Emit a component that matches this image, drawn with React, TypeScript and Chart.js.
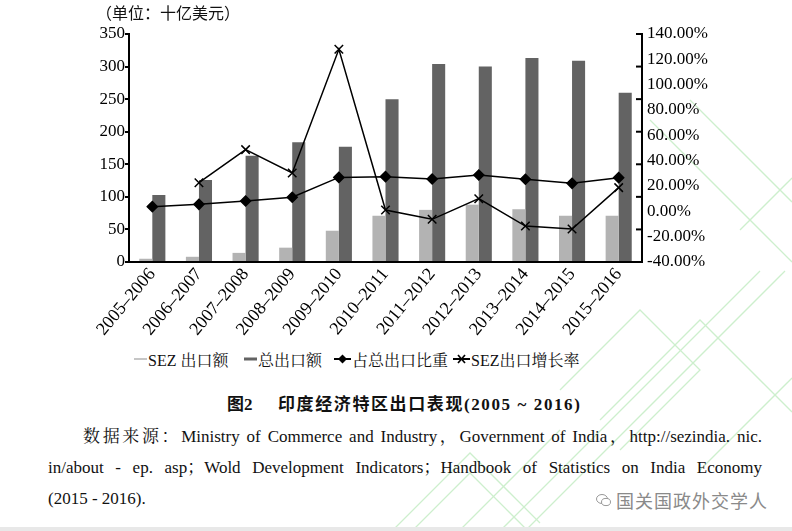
import React, { useEffect, useRef } from "react";
import { Chart, registerables } from "chart.js";

Chart.register(...registerables);

const categories = [
  "2005–2006", "2006–2007", "2007–2008", "2008–2009", "2009–2010", "2010–2011",
  "2011–2012", "2012–2013", "2013–2014", "2014–2015", "2015–2016",
];
const sezExports = [5, 8, 14, 22, 48, 71, 80, 88, 81, 71, 71];
const totalExports = [103, 126, 163, 184, 177, 250, 304, 300, 313, 309, 260];
const sezShare = [3.7, 5.5, 8.2, 11.1, 26.8, 27.4, 25.5, 28.7, 25.3, 22.1, 26.6];
const sezGrowth = [null, 22.6, 48.7, 30.3, 127.9, 1.0, -6.3, 10.0, -11.6, -13.9, 18.7];

const seriesNames = ["SEZ 出口额", "总出口额", "占总出口比重", "SEZ出口增长率"];
const unitLabel = "（单位：十亿美元）";
const titleLead = "图2";
const titleMain = "印度经济特区出口表现(2005 ~ 2016)";
const sourceLines = [
  "数据来源：Ministry of Commerce and Industry，Government of India，http://sezindia. nic.",
  "in/about - ep. asp；Wold Development Indicators；Handbook of Statistics on India Economy",
  "(2015 - 2016).",
];
const watermark = "国关国政外交学人";

const LIGHT = "#b3b3b3";
const DARK = "#636363";
const SERIF = "'Liberation Serif', 'Noto Serif CJK SC', serif";
const SANS_CJK = "'Noto Sans CJK SC', sans-serif";
const TITLE_FONT = "'Liberation Serif', 'Noto Sans CJK SC', sans-serif";

const rightTicksPlugin = {
  id: "rightTicks",
  afterDraw(chart: any) {
    const y = chart.scales.y;
    const y1 = chart.scales.y1;
    const ctx = chart.ctx;
    ctx.save();
    ctx.strokeStyle = "#000";
    ctx.lineWidth = 2;
    const x = y1.left;
    y.ticks.forEach((t: any) => {
      const py = y.getPixelForValue(t.value);
      ctx.beginPath();
      ctx.moveTo(x - 6, py);
      ctx.lineTo(x, py);
      ctx.stroke();
    });
    ctx.restore();
  },
};

function ChartCanvas() {
  const ref = useRef<HTMLCanvasElement | null>(null);
  useEffect(() => {
    if (!ref.current) return;
    const chart = new Chart(ref.current, {
      type: "bar",
      data: {
        labels: categories,
        datasets: [
          {
            type: "bar",
            label: seriesNames[0],
            data: sezExports,
            backgroundColor: LIGHT,
            yAxisID: "y",
            order: 2,
            categoryPercentage: 0.56,
            barPercentage: 1,
          },
          {
            type: "bar",
            label: seriesNames[1],
            data: totalExports,
            backgroundColor: DARK,
            yAxisID: "y",
            order: 2,
            categoryPercentage: 0.56,
            barPercentage: 1,
          },
          {
            type: "line",
            label: seriesNames[2],
            data: sezShare,
            borderColor: "#000",
            backgroundColor: "#000",
            borderWidth: 1.5,
            pointStyle: "rectRot",
            pointRadius: 5,
            yAxisID: "y1",
            order: 1,
            tension: 0,
          },
          {
            type: "line",
            label: seriesNames[3],
            data: sezGrowth,
            borderColor: "#000",
            backgroundColor: "#000",
            borderWidth: 1.5,
            pointStyle: "crossRot",
            pointRadius: 6,
            pointBorderWidth: 1.5,
            yAxisID: "y1",
            order: 0,
            tension: 0,
          },
        ] as any,
      },
      options: {
        animation: false,
        responsive: false,
        maintainAspectRatio: false,
        layout: { padding: { top: 34, left: 0, right: 0, bottom: 0 } },
        plugins: { legend: { display: false }, tooltip: { enabled: false }, title: { display: false } },
        scales: {
          x: {
            grid: { display: false, drawTicks: false },
            border: { display: true, color: "#000", width: 2 },
            ticks: {
              color: "#000",
              font: { family: SERIF, size: 18 },
              minRotation: 50,
              maxRotation: 50,
              padding: 2,
              autoSkip: false,
            },
            afterFit(scale: any) {
              scale.height = 83;
            },
          },
          y: {
            position: "left",
            min: 0,
            max: 350,
            grid: { display: true, drawOnChartArea: false, drawTicks: true, tickLength: 4, color: "#000", lineWidth: 2 },
            border: { display: true, color: "#000", width: 2 },
            ticks: {
              stepSize: 50,
              color: "#000",
              font: { family: SERIF, size: 17 },
              padding: 0,
            },
            afterFit(scale: any) {
              scale.width = 129;
            },
          },
          y1: {
            position: "right",
            min: -40,
            max: 140,
            grid: { display: false, drawOnChartArea: false, drawTicks: false },
            border: { display: true, color: "#000", width: 2 },
            ticks: {
              stepSize: 20,
              color: "#000",
              font: { family: SERIF, size: 17 },
              padding: 5,
              callback: (v: any) => Number(v).toFixed(2) + "%",
            },
            afterFit(scale: any) {
              scale.width = 150;
            },
          },
        },
      } as any,
      plugins: [rightTicksPlugin],
    });
    return () => chart.destroy();
  }, []);
  return <canvas ref={ref} width={792} height={345} style={{ position: "absolute", left: 0, top: 0, width: 792, height: 345 }} />;
}

function LegendIcon({ kind }: { kind: number }) {
  if (kind === 0 || kind === 1) {
    return (
      <svg width={13} height={10} style={{ display: "block" }}>
        <line x1={0} y1={5} x2={13} y2={5} stroke={kind === 0 ? LIGHT : DARK} strokeWidth={kind === 0 ? 1.5 : 3} />
      </svg>
    );
  }
  if (kind === 2) {
    return (
      <svg width={17} height={12} style={{ display: "block" }}>
        <line x1={0} y1={6} x2={17} y2={6} stroke="#000" strokeWidth={2} />
        <polygon points="8.5,1.5 13,6 8.5,10.5 4,6" fill="#000" />
      </svg>
    );
  }
  return (
    <svg width={17} height={12} style={{ display: "block" }}>
      <line x1={0} y1={6} x2={17} y2={6} stroke="#000" strokeWidth={2} />
      <line x1={5} y1={2} x2={12} y2={10} stroke="#000" strokeWidth={1.6} />
      <line x1={12} y1={2} x2={5} y2={10} stroke="#000" strokeWidth={1.6} />
    </svg>
  );
}

function BackgroundMark() {
  // faint green decorative watermark strokes seen behind the reference
  const g = "#cdefcd";
  return (
    <svg width={792} height={531} style={{ position: "absolute", left: 0, top: 0 }}>
      <g fill="none" stroke={g} strokeWidth={1.3}>
        <polyline points="392,531 470,453 540,523" />
        <polyline points="412,531 470,473 528,531" />
        <polyline points="500,531 560,471 760,271" />
        <polyline points="525,531 585,471 785,271" />
        <polyline points="560,390 640,310 700,370 620,450" />
        <polyline points="600,420 700,320 792,412" />
        <polyline points="650,120 792,262" />
        <polyline points="690,100 792,202" />
        <polyline points="700,470 792,378" />
        <polyline points="740,230 792,178" />
        <polyline points="460,530 560,430" />
      </g>
    </svg>
  );
}

const legendLefts = [134, 244, 334, 453];

export default function App() {
  return (
    <div style={{ position: "fixed", left: 0, top: 0, width: 792, height: 531, background: "#fff", overflow: "hidden" }}>
      <BackgroundMark />
      <ChartCanvas />
      <div style={{ position: "absolute", left: 96, top: 1, fontFamily: SANS_CJK, fontSize: 16, lineHeight: "22px", color: "#111" }}>
        {unitLabel}
      </div>
      {seriesNames.map((name, i) => (
        <div
          key={name}
          style={{
            position: "absolute",
            left: legendLefts[i],
            top: 348,
            height: 22,
            display: "flex",
            alignItems: "center",
            gap: 1,
            fontFamily: SERIF,
            fontSize: 16,
            color: "#111",
            whiteSpace: "nowrap",
          }}
        >
          <LegendIcon kind={i} />
          <span>{name}</span>
        </div>
      ))}
      <div
        style={{
          position: "absolute",
          left: 227,
          top: 393,
          fontFamily: TITLE_FONT,
          fontWeight: "bold",
          fontSize: 17,
          lineHeight: "24px",
          color: "#111",
          whiteSpace: "pre",
          display: "flex",
        }}
      >
        <span style={{ width: 51 }}>{titleLead}</span>
        <span style={{ letterSpacing: 1.6 }}>{titleMain}</span>
      </div>
      {sourceLines.map((line, i) => (
        <div
          key={i}
          style={{
            position: "absolute",
            left: i === 0 ? 83 : 48,
            width: i === 2 ? undefined : i === 0 ? 762 - 83 : 762 - 48,
            top: 425 + i * 31,
            fontFamily: SERIF,
            fontSize: 17,
            lineHeight: "24px",
            color: "#111",
            whiteSpace: "nowrap",
            textAlign: i === 2 ? "left" : "justify",
            textAlignLast: i === 2 ? "auto" : "justify",
          } as any}
        >
          {line}
        </div>
      ))}
      <div style={{ position: "absolute", left: 596, top: 489, display: "flex", alignItems: "center", gap: 4 }}>
        <svg width={16} height={14} style={{ display: "block" }}>
          <ellipse cx={6} cy={6} rx={5.5} ry={4.5} fill="none" stroke="#999" strokeWidth={1} />
          <ellipse cx={10} cy={9} rx={4.5} ry={3.6} fill="#fff" stroke="#999" strokeWidth={1} />
        </svg>
        <span style={{ fontFamily: SANS_CJK, fontSize: 18, lineHeight: "22px", color: "#8a8a8a", letterSpacing: 1 }}>{watermark}</span>
      </div>
      <div style={{ position: "absolute", left: 0, top: 527, width: 792, height: 4, background: "#e8e8e8" }} />
    </div>
  );
}
